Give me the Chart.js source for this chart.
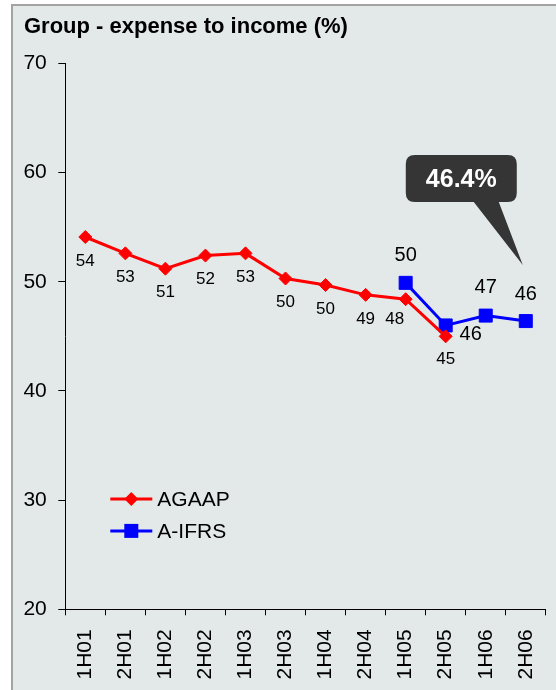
<!DOCTYPE html>
<html>
<head>
<meta charset="utf-8">
<script src="https://cdn.jsdelivr.net/npm/chart.js@4/dist/chart.umd.min.js"></script>
<style>
  html, body { margin: 0; padding: 0; background: #ffffff; }
  #wrap { position: relative; width: 556px; height: 690px; overflow: hidden; }
  #frame {
    position: absolute; left: 11px; top: 4px; right: -10px; bottom: -10px;
    background: #e3e9e9;
    border-left: 2px solid #a3a3a3; border-top: 2px solid #a3a3a3;
  }
  canvas { position: absolute; left: 0; top: 0; }
</style>
</head>
<body>
<div id="wrap">
  <div id="frame"></div>
  <canvas id="chart" width="556" height="690"></canvas>
</div>
<script>
// Half-year periods
const periods = ['1H01', '2H01', '1H02', '2H02', '1H03', '2H03', '1H04', '2H04', '1H05', '2H05', '1H06', '2H06'];

// Expense to income ratio (%), Australian GAAP basis
const agaap = [54.1, 52.6, 51.2, 52.4, 52.6, 50.3, 49.7, 48.8, 48.4, 45.0, null, null];

// Expense to income ratio (%), A-IFRS basis
const aifrs = [null, null, null, null, null, null, null, null, 49.9, 46.0, 46.9, 46.4];

// Value axis range
const yMin = 20;
const yMax = 70;
const yStep = 10;

// Highlighted latest result
const calloutIndex = 11;
const calloutText = aifrs[calloutIndex].toFixed(1) + '%';

const FONT = "'Liberation Sans', Arial, Helvetica, sans-serif";
const RED = '#ff0000';
const BLUE = '#0000ff';

// Where each series' value labels sit relative to their points (dx, dy in px)
const labelStyle = {
  0: { font: 'normal 17px ' + FONT, offsets: { default: [0, 24], 8: [-11, 20], 9: [0, 23] } },
  1: { font: 'normal 20px ' + FONT, offsets: { default: [0, -27], 9: [25, 9], 10: [0, -28] } }
};

const valueLabels = {
  id: 'valueLabels',
  afterDatasetsDraw(chart) {
    const ctx = chart.ctx;
    ctx.save();
    ctx.fillStyle = '#000';
    ctx.textAlign = 'center';
    ctx.textBaseline = 'middle';
    chart.data.datasets.forEach((ds, di) => {
      const meta = chart.getDatasetMeta(di);
      const st = labelStyle[di];
      ctx.font = st.font;
      meta.data.forEach((pt, i) => {
        const v = ds.data[i];
        if (v === null || v === undefined) return;
        const off = st.offsets[i] || st.offsets.default;
        ctx.fillText(String(Math.round(v)), pt.x + off[0], pt.y + off[1]);
      });
    });
    ctx.restore();
  }
};

const callout = {
  id: 'callout',
  afterDatasetsDraw(chart) {
    const ctx = chart.ctx;
    const xs = chart.scales.x, ys = chart.scales.y;
    const tipX = xs.getPixelForValue(calloutIndex) - 3;
    const tipY = ys.getPixelForValue(aifrs[calloutIndex]) - 56;
    const left = tipX - 117, right = tipX - 6;
    const top = tipY - 110, bottom = tipY - 63;
    const r = 9;
    ctx.save();
    ctx.fillStyle = '#353535';
    ctx.beginPath();
    ctx.moveTo(left + r, top);
    ctx.lineTo(right - r, top);
    ctx.quadraticCurveTo(right, top, right, top + r);
    ctx.lineTo(right, bottom - r);
    ctx.quadraticCurveTo(right, bottom, right - r, bottom);
    ctx.lineTo(tipX - 24, bottom);
    ctx.lineTo(tipX, tipY);
    ctx.lineTo(tipX - 49, bottom);
    ctx.lineTo(left + r, bottom);
    ctx.quadraticCurveTo(left, bottom, left, bottom - r);
    ctx.lineTo(left, top + r);
    ctx.quadraticCurveTo(left, top, left + r, top);
    ctx.closePath();
    ctx.fill();
    ctx.fillStyle = '#ffffff';
    ctx.font = 'bold 25px ' + FONT;
    ctx.textAlign = 'center';
    ctx.textBaseline = 'middle';
    ctx.fillText(calloutText, (left + right) / 2, (top + bottom) / 2 + 2);
    ctx.restore();
  }
};

function drawMarker(ctx, style, x, y, color) {
  ctx.fillStyle = color;
  ctx.beginPath();
  if (style === 'rectRot') {
    ctx.moveTo(x - 7, y); ctx.lineTo(x, y - 7); ctx.lineTo(x + 7, y); ctx.lineTo(x, y + 7);
  } else {
    ctx.rect(x - 7, y - 7, 14, 14);
  }
  ctx.closePath();
  ctx.fill();
}

const lineLegend = {
  id: 'lineLegend',
  afterDraw(chart) {
    const ctx = chart.ctx;
    const a = chart.chartArea;
    const x0 = a.left + 45, x1 = a.left + 87;
    ctx.save();
    ctx.font = 'normal 21px ' + FONT;
    ctx.textAlign = 'left';
    ctx.textBaseline = 'middle';
    chart.data.datasets.forEach((ds, i) => {
      const y = a.top + 435.5 + i * 32;
      ctx.strokeStyle = ds.borderColor;
      ctx.lineWidth = 3;
      ctx.beginPath();
      ctx.moveTo(x0, y); ctx.lineTo(x1, y);
      ctx.stroke();
      drawMarker(ctx, ds.pointStyle, (x0 + x1) / 2, y, ds.pointBackgroundColor);
      ctx.fillStyle = '#000';
      ctx.fillText(ds.label, x1 + 5, y + 1);
    });
    ctx.restore();
  }
};

// The rotated period labels need no side room, so the axis can run to the frame edge
function noSidePadding(scale) {
  scale.paddingLeft = 0;
  scale.paddingRight = 0;
  if (scale._margins) { scale._margins.left = 0; scale._margins.right = 0; }
  scale.getPadding = () => ({ left: 0, right: 0, top: scale.paddingTop || 0, bottom: scale.paddingBottom || 0 });
}

new Chart(document.getElementById('chart'), {
  type: 'line',
  data: {
    labels: periods,
    datasets: [
      {
        label: 'AGAAP',
        data: agaap,
        borderColor: RED,
        backgroundColor: RED,
        pointBackgroundColor: RED,
        pointBorderColor: RED,
        borderWidth: 3,
        pointStyle: 'rectRot',
        pointRadius: 6.5,
        pointBorderWidth: 1,
        spanGaps: false,
        tension: 0
      },
      {
        label: 'A-IFRS',
        data: aifrs,
        borderColor: BLUE,
        backgroundColor: BLUE,
        pointBackgroundColor: BLUE,
        pointBorderColor: BLUE,
        borderWidth: 3,
        pointStyle: 'rect',
        pointRadius: 9.2,
        pointBorderWidth: 1,
        spanGaps: false,
        tension: 0
      }
    ]
  },
  options: {
    responsive: false,
    animation: false,
    devicePixelRatio: 1,
    layout: { padding: { left: 24, right: 6, top: 4, bottom: 0 } },
    plugins: {
      legend: { display: false },
      tooltip: { enabled: false },
      title: {
        display: true,
        text: 'Group - expense to income (%)',
        align: 'start',
        color: '#000',
        font: { family: FONT, size: 22, weight: 'bold' },
        padding: { top: 10, bottom: 23 }
      }
    },
    scales: {
      x: {
        offset: true,
        grid: { offset: true, drawOnChartArea: false, drawTicks: true, tickLength: 6, color: '#000', lineWidth: 1 },
        border: { display: true, color: '#000', width: 1 },
        ticks: {
          minRotation: 90, maxRotation: 90, autoSkip: false,
          color: '#000', padding: 14,
          font: { family: FONT, size: 21 }
        },
        afterFit(scale) {
          scale.height = 80.7;
          noSidePadding(scale);
        }
      },
      y: {
        min: yMin, max: yMax,
        grid: { drawOnChartArea: false, drawTicks: true, tickLength: 7, color: '#000', lineWidth: 1 },
        border: { display: true, color: '#000', width: 1 },
        ticks: {
          stepSize: yStep, color: '#000', padding: 11.5,
          font: { family: FONT, size: 21 }
        },
        afterFit(scale) { scale.width = 41.3; }
      }
    }
  },
  plugins: [valueLabels, callout, lineLegend]
});
</script>
</body>
</html>
